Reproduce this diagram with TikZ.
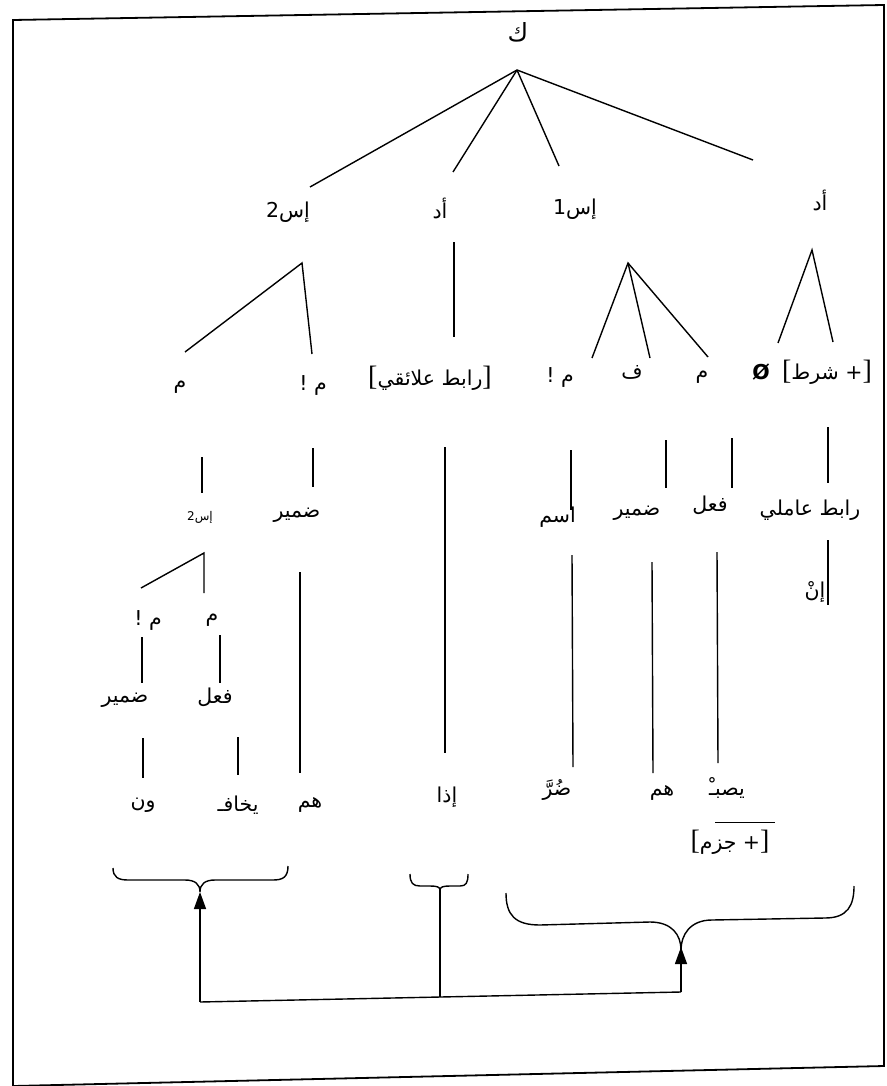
\documentclass[tikz,border=0pt]{standalone}
\usepackage{fontspec}
\setmainfont{Liberation Sans}
\newfontfamily\ar[Script=Arabic]{DejaVu Sans}
\newfontfamily\brk{Liberation Serif}
\TeXXeTstate=1
\usetikzlibrary{arrows.meta}
\newcommand{\lbk}{{\brk\fontsize{28}{28}\selectfont[}}
\newcommand{\rbk}{{\brk\fontsize{28}{28}\selectfont]}}
\begin{document}
\begin{tikzpicture}[x=1pt,y=-1pt,
  lbl/.style={inner sep=0pt, font=\fontsize{20.5}{24}\selectfont\ar},
  big/.style={inner sep=0pt, font=\fontsize{25}{28}\selectfont\ar},
  small/.style={inner sep=0pt, font=\fontsize{12}{14}\selectfont\ar},
  edge/.style={line width=1.4pt},
  up/.style={line width=1.4pt,-{Triangle[length=17pt,width=12pt]}},
  brace/.style={line width=1.4pt}]
\useasboundingbox (0,0) rectangle (886,1086);
\draw[line width=1.8pt] (13,20) -- (884,5) -- (884,1066) -- (13,1086) -- cycle;

% level 0
\node[big] (k) at (518,32) {ك};
\coordinate (a0) at (517,70);
\coordinate (e1) at (310,187);
\coordinate (e2) at (453,172);
\coordinate (e3) at (559,166);
\coordinate (e4) at (753,160);
\foreach \e in {e1,e2,e3,e4} \draw[edge] (a0) -- (\e);

% level 1
\node[lbl] (n1) at (288,212) {\beginR إس2\endR};
\node[lbl] (n2) at (440,208) {أد};
\node[lbl] (n3) at (575,209) {\beginR إس1\endR};
\node[lbl] (n4) at (820,200) {أد};

% middle ad
\coordinate (m0) at (454,242);
\coordinate (m1) at (454,337);
\draw[edge] (m0) -- (m1);
\node[lbl] (rabt1) at (430,378) {\lbk\beginR رابط علائقي\endR\rbk};
\coordinate (m2) at (445,447);
\coordinate (m3) at (445,753);
\draw[edge] (m2) -- (m3);
\node[lbl] (idha) at (447,797) {إذا};

% is2 subtree
\coordinate (b0) at (302,263);
\coordinate (b1) at (185,352);
\coordinate (b2) at (312,354);
\draw[edge] (b1) -- (b0) -- (b2);
\node[lbl] (mA) at (180,387) {م};
\node[lbl] (mB) at (313,385) {\beginR م !\endR};
\coordinate (c1) at (202,457); \coordinate (c2) at (202,493);
\draw[edge] (c1) -- (c2);
\node[small] (is2s) at (200,517) {\beginR إس2\endR};
\coordinate (c3) at (313,448); \coordinate (c4) at (313,487);
\draw[edge] (c3) -- (c4);
\node[lbl] (damir1) at (297,515) {ضمير};
\coordinate (c5) at (300,572); \coordinate (c6) at (300,773);
\draw[edge] (c5) -- (c6);
\node[lbl] (hum1) at (310,805) {هم};

% small is2 subtree
\coordinate (d0) at (204,553);
\coordinate (d1) at (141,588);
\coordinate (d2) at (204,593);
\draw[edge] (d1) -- (d0) -- (d2);
\node[lbl] (mC) at (148,620) {\beginR م !\endR};
\node[lbl] (mD) at (212,620) {م};
\coordinate (f1) at (142,637); \coordinate (f2) at (142,683);
\coordinate (f3) at (220,635); \coordinate (f4) at (220,683);
\draw[edge] (f1) -- (f2); \draw[edge] (f3) -- (f4);
\node[lbl] (damir2) at (125,700) {ضمير};
\node[lbl] (fil1) at (215,697) {فعل};
\coordinate (g1) at (143,738); \coordinate (g2) at (143,778);
\coordinate (g3) at (238,737); \coordinate (g4) at (238,775);
\draw[edge] (g1) -- (g2); \draw[edge] (g3) -- (g4);
\node[lbl] (wn) at (143,805) {ون};
\node[lbl] (yakhaf) at (238,805) {يخافـ};

% is1 subtree
\coordinate (h0) at (628,263);
\coordinate (h1) at (592,358);
\coordinate (h2) at (650,358);
\coordinate (h3) at (708,357);
\draw[edge] (h1) -- (h0) -- (h3);
\draw[edge] (h0) -- (h2);
\node[lbl] (mE) at (560,377) {\beginR م !\endR};
\node[lbl] (fa) at (632,372) {ف};
\node[lbl] (mF) at (702,377) {م};
\coordinate (i1) at (571,450); \coordinate (i2) at (571,510);
\draw[edge] (i1) -- (i2);
\node[lbl,anchor=east] (ism) at (576,517) {اسم};
\coordinate (i3) at (666,440); \coordinate (i4) at (666,488);
\draw[edge] (i3) -- (i4);
\node[lbl] (damir3) at (637,513) {ضمير};
\coordinate (i5) at (732,438); \coordinate (i6) at (732,488);
\draw[edge] (i5) -- (i6);
\node[lbl] (fil2) at (710,505) {فعل};
\coordinate (j1) at (572,555); \coordinate (j2) at (573,767);
\coordinate (j3) at (652,562); \coordinate (j4) at (653,773);
\coordinate (j5) at (717,552); \coordinate (j6) at (718,763);
\draw[edge] (j1) -- (j2); \draw[edge] (j3) -- (j4); \draw[edge] (j5) -- (j6);
\node[lbl] (darr) at (557,790) {ضُرَّ};
\node[lbl] (hum2) at (662,793) {هم};
\node[lbl] (yusib) at (727,788) {يصبـْ};
\node[lbl] (jazm) at (730,842) {\lbk\beginR + جزم\endR\rbk};
\draw[line width=1pt] (715,822) -- (775,822);

% right ad subtree
\coordinate (p0) at (812,250);
\coordinate (p1) at (778,343);
\coordinate (p2) at (833,342);
\draw[edge] (p1) -- (p0) -- (p2);
\node[lbl] (null) at (761,372) {\textbf{Ø}};
\node[lbl] (shart) at (827,372) {\lbk\beginR + شرط\endR\rbk};
\coordinate (q1) at (828,427); \coordinate (q2) at (828,483);
\draw[edge] (q1) -- (q2);
\node[lbl] (rabt2) at (810,510) {\beginR رابط عاملي\endR};
\coordinate (q3) at (828,540); \coordinate (q4) at (828,605);
\draw[edge] (q3) -- (q4);
\node[lbl] (in) at (815,592) {إنْ};

% braces
\coordinate (lbtip) at (200,892);
\coordinate (mbtip) at (440,890);
\coordinate (rbtip) at (681,950);
\draw[brace] (113,868) .. controls (113,877) and (118,880) .. (128,880) -- (185,880)
  .. controls (195,880) and (200,884) .. (lbtip)
  .. controls (200,884) and (205,880) .. (215,880) -- (273,880)
  .. controls (283,880) and (288,877) .. (288,866);
\draw[brace] (410,874) .. controls (410,883) and (413,886) .. (420,886) -- (430,886)
  .. controls (437,886) and (440,887) .. (mbtip)
  .. controls (440,887) and (443,886) .. (450,886) -- (460,886)
  .. controls (466,886) and (468,883) .. (468,874);
\draw[brace] (506,893) .. controls (506,915) and (515,925) .. (540,925) -- (650,922)
  .. controls (672,922) and (681,935) .. (rbtip)
  .. controls (681,935) and (690,920) .. (712,920) -- (825,918)
  .. controls (848,918) and (854,905) .. (854,886);

% connectors
\coordinate (cL) at (200,1002);
\coordinate (cM) at (440,997);
\coordinate (cR) at (681,992);
\draw[edge] (cL) -- (cR);
\draw[edge] (mbtip) -- (cM);
\draw[up] (cL) -- (lbtip);
\draw[up] (cR) -- ([yshift=3pt]rbtip);
\end{tikzpicture}
\end{document}
